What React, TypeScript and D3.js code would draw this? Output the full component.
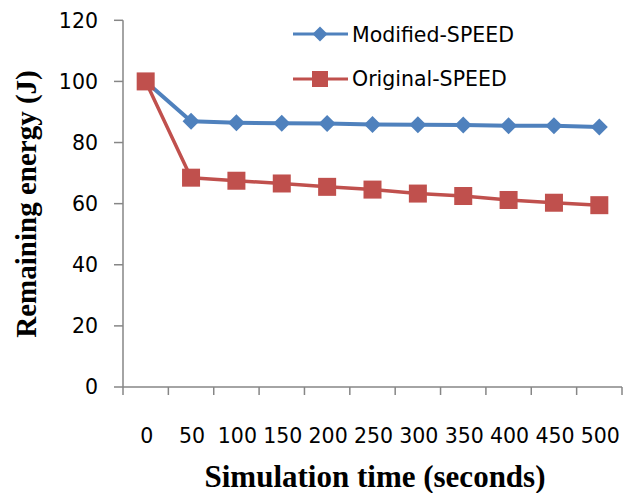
import React from "react";
import * as d3 from "d3";

const categories = ["0", "50", "100", "150", "200", "250", "300", "350", "400", "450", "500"];
const modifiedSpeed = [100, 87, 86.5, 86.3, 86.2, 85.9, 85.8, 85.7, 85.5, 85.5, 85.1];
const originalSpeed = [100, 68.5, 67.5, 66.6, 65.5, 64.6, 63.3, 62.5, 61.2, 60.3, 59.5];
const yTicks = [0, 20, 40, 60, 80, 100, 120];
const seriesNames = ["Modified-SPEED", "Original-SPEED"];

const W = 626;
const H = 493;
const left = 123;
const right = 622;
const top = 20.3;
const bottom = 387;

const BLUE = "#4F81BD";
const RED = "#C0504D";
const AXIS = "#868686";
const TICK_FONT = "'DejaVu Sans', Verdana, sans-serif";
const TITLE_FONT = "'Liberation Serif', 'Times New Roman', serif";

export default function App() {
  const x = d3.scaleBand<string>().domain(categories).range([left, right]).padding(0);
  const y = d3.scaleLinear().domain([0, 120]).range([bottom, top]);
  const cx = (c: string) => (x(c) as number) + x.bandwidth() / 2;

  const line = d3
    .line<number>()
    .x((_, i) => cx(categories[i]))
    .y((d) => y(d));

  const diamond = (px: number, py: number, r: number) =>
    `M${px},${py - r}L${px + r},${py}L${px},${py + r}L${px - r},${py}Z`;

  const xTickPositions = [...categories.map((c) => x(c) as number), right];

  return (
    <svg
      width={W}
      height={H}
      style={{ position: "absolute", left: 0, top: 0, background: "#fff" }}
    >
      <rect x={0} y={0} width={W} height={H} fill="#fff" />
      {/* Y axis */}
      <line x1={left} x2={left} y1={top} y2={bottom} stroke={AXIS} strokeWidth={1.5} />
      {yTicks.map((t) => (
        <g key={"y" + t}>
          <line x1={left - 9} x2={left} y1={y(t)} y2={y(t)} stroke={AXIS} strokeWidth={1.5} />
          <text
            x={98}
            y={y(t)}
            dy="0.36em"
            textAnchor="end"
            fontFamily={TICK_FONT}
            fontSize={20.5}
            fill="#000"
          >
            {t}
          </text>
        </g>
      ))}
      {/* X axis */}
      <line x1={left} x2={right} y1={bottom} y2={bottom} stroke={AXIS} strokeWidth={1.5} />
      {xTickPositions.map((p, i) => (
        <line key={"xt" + i} x1={p} x2={p} y1={bottom} y2={bottom + 8} stroke={AXIS} strokeWidth={1.5} />
      ))}
      {categories.map((c) => (
        <text
          key={"xl" + c}
          x={cx(c) + 1}
          y={443}
          textAnchor="middle"
          fontFamily={TICK_FONT}
          fontSize={20.5}
          fill="#000"
        >
          {c}
        </text>
      ))}
      {/* Axis titles */}
      <text
        x={375}
        y={487}
        textAnchor="middle"
        fontFamily={TITLE_FONT}
        fontWeight="bold"
        fontSize={31}
        fill="#000"
      >
        Simulation time (seconds)
      </text>
      <text
        transform={`translate(36,204) rotate(-90)`}
        textAnchor="middle"
        fontFamily={TITLE_FONT}
        fontWeight="bold"
        fontSize={29}
        fill="#000"
      >
        Remaining energy (J)
      </text>
      {/* Series: Modified */}
      <path d={line(modifiedSpeed) || ""} fill="none" stroke={BLUE} strokeWidth={4} strokeLinejoin="round" />
      {modifiedSpeed.map((v, i) => (
        <path key={"m" + i} d={diamond(cx(categories[i]), y(v), 8.5)} fill={BLUE} />
      ))}
      {/* Series: Original */}
      <path d={line(originalSpeed) || ""} fill="none" stroke={RED} strokeWidth={3.5} strokeLinejoin="round" />
      {originalSpeed.map((v, i) => (
        <rect key={"o" + i} x={cx(categories[i]) - 9} y={y(v) - 9} width={18} height={18} fill={RED} />
      ))}
      {/* Legend */}
      <line x1={293} x2={348} y1={34} y2={34} stroke={BLUE} strokeWidth={3} />
      <path d={diamond(320, 34, 7.5)} fill={BLUE} />
      <text x={352} y={42} fontFamily={TICK_FONT} fontSize={20.5} fill="#000">
        {seriesNames[0]}
      </text>
      <line x1={293} x2={348} y1={79} y2={79} stroke={RED} strokeWidth={3} />
      <rect x={312} y={71} width={16} height={16} fill={RED} />
      <text x={352} y={86} fontFamily={TICK_FONT} fontSize={20.5} fill="#000">
        {seriesNames[1]}
      </text>
    </svg>
  );
}
